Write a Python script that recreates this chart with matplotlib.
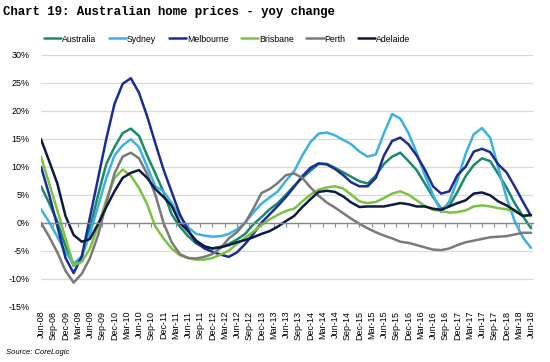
import matplotlib
matplotlib.use("Agg")
import matplotlib.pyplot as plt
import numpy as np

# months since Jun-08, every 2 months
months = list(range(0, 121, 2))

australia = [6.5, 3.5, 0.2, -4.2, -7.7, -6.2, -1.0, 5.0, 10.5, 13.5, 16.0, 16.8, 15.5, 12.0, 8.8, 5.5,
             1.5, -0.7, -2.4, -3.7, -4.4, -4.6, -4.3, -3.8, -3.0, -2.0, -0.3, 1.0, 2.4, 3.5, 5.0,
             6.6, 8.0, 9.3, 10.5, 10.5, 9.8, 9.0, 8.2, 7.4, 7.0, 8.4, 10.5, 11.8, 12.5, 11.0,
             9.4, 7.0, 4.6, 2.5, 3.0, 5.5, 8.3, 10.3, 11.5, 11.0, 8.7, 6.3, 3.5, 1.2, -1.0]
sydney = [2.4, 0.1, -2.5, -5.3, -7.3, -6.0, -2.0, 3.0, 8.0, 12.0, 13.8, 14.9, 13.5, 10.0, 6.5, 5.6,
          3.5, 1.1, -0.8, -2.0, -2.3, -2.5, -2.4, -2.0, -1.2, 0.0, 1.8, 3.4, 4.5, 5.6, 7.5,
          9.2, 12.0, 14.4, 15.9, 16.1, 15.6, 14.8, 14.0, 12.7, 11.8, 12.2, 16.0, 19.4, 18.6, 16.0,
          12.5, 8.5, 5.0, 1.9, 3.8, 7.6, 12.3, 15.8, 16.9, 15.2, 9.8, 4.5, 0.3, -2.6, -4.5]
melbourne = [10.0, 5.0, -0.6, -6.3, -9.0, -6.0, 1.0, 8.0, 15.0, 21.2, 24.8, 25.8, 23.2, 19.0, 14.2, 9.5,
             5.5, 1.5, -1.3, -3.5, -4.6, -5.2, -5.7, -6.1, -5.3, -3.8, -2.0, 0.0, 1.5, 3.0, 4.6,
             6.4, 8.3, 9.8, 10.6, 10.4, 9.6, 8.5, 7.2, 6.5, 6.5, 8.0, 12.0, 14.6, 15.2, 14.0,
             12.0, 9.5, 6.5, 5.2, 5.6, 8.5, 10.0, 12.7, 13.2, 12.6, 10.4, 9.0, 6.5, 3.8, 1.2]
brisbane = [11.8, 7.0, 2.2, -2.8, -7.6, -7.0, -4.6, -0.6, 4.1, 8.0, 9.5, 8.4, 6.2, 3.3, -0.7, -2.8,
            -4.6, -5.8, -6.3, -6.6, -6.6, -6.3, -5.7, -5.0, -3.8, -2.7, -1.6, -0.4, 0.6, 1.4, 2.1,
            2.5, 3.8, 5.0, 5.9, 6.3, 6.5, 6.1, 5.0, 3.8, 3.5, 3.7, 4.4, 5.2, 5.6, 5.0,
            4.0, 3.0, 2.3, 2.1, 1.8, 1.9, 2.2, 2.9, 3.1, 2.9, 2.6, 2.4, 2.0, 1.3, 1.2]
perth = [0.0, -2.5, -5.3, -8.6, -10.7, -9.1, -6.3, -2.2, 3.5, 8.8, 11.8, 12.5, 11.5, 8.7, 5.0, 0.0,
         -3.5, -5.6, -6.3, -6.4, -6.1, -5.6, -4.5, -2.8, -1.7, 0.0, 2.5, 5.3, 6.0, 7.1, 8.5,
         8.8, 8.0, 6.3, 4.8, 3.6, 2.7, 1.7, 0.7, -0.2, -1.0, -1.7, -2.3, -2.8, -3.4, -3.6,
         -4.0, -4.4, -4.8, -4.9, -4.6, -4.0, -3.5, -3.2, -2.9, -2.6, -2.5, -2.4, -2.1, -1.8, -1.8]
adelaide = [14.9, 11.0, 7.0, 1.2, -2.2, -3.4, -2.9, -0.2, 2.8, 5.6, 8.0, 8.9, 9.4, 8.0, 6.0, 4.6,
            3.0, 0.0, -1.5, -3.2, -4.2, -4.6, -4.4, -4.0, -3.5, -3.1, -2.6, -2.0, -1.5, -0.7, 0.3,
            1.2, 2.8, 4.2, 5.5, 5.7, 5.5, 4.7, 3.6, 2.8, 2.9, 2.9, 2.9, 3.2, 3.5, 3.3,
            2.9, 2.9, 2.5, 2.3, 2.9, 3.5, 4.0, 5.2, 5.4, 4.9, 3.8, 3.1, 2.2, 1.2, 1.4]

series_names = ["Australia", "Sydney", "Melbourne", "Brisbane", "Perth", "Adelaide"]
series_values = [australia, sydney, melbourne, brisbane, perth, adelaide]
colors = ["#1A8A6A", "#3DB1E3", "#1C2C96", "#7CC242", "#7A7A7A", "#0C1A45"]

mon = ["Jun", "Sep", "Dec", "Mar"]
tick_months = list(range(0, 121, 3))
tick_labels = []
for i, m in enumerate(tick_months):
    yr = 8 + (m + 6) // 12
    tick_labels.append(f"{mon[i % 4]}-{yr:02d}")

y_ticks = [-15, -10, -5, 0, 5, 10, 15, 20, 25, 30]

fig = plt.figure(figsize=(5.5, 3.62), dpi=100)
ax = fig.add_axes([41/550, 1 - 306.7/362, (533-41)/550, (306.7-54.7)/362])

for name, vals, c in zip(series_names, series_values, colors):
    ax.plot(months, vals, color=c, lw=1.8, label=name, solid_capstyle="round")

ax.set_xlim(0, 120.5)
ax.set_ylim(-15, 30)
ax.set_yticks(y_ticks)
ax.set_yticklabels([f"{v}%" for v in y_ticks], fontsize=6.5, family="Liberation Sans")
ax.tick_params(axis="y", length=0, pad=8)
ax.grid(axis="y", color="#D9D9D9", lw=0.9)
ax.set_axisbelow(True)
for s in ["left", "right", "top"]:
    ax.spines[s].set_visible(False)
ax.spines["bottom"].set_position(("data", 0))
ax.spines["bottom"].set_color("#888888")
ax.spines["bottom"].set_linewidth(1.0)
ax.set_xticks(tick_months)
ax.tick_params(axis="x", direction="out", length=3, color="#888888", labelbottom=False)

sec = ax.secondary_xaxis(0)
sec.set_xticks(tick_months)
sec.set_xticklabels(tick_labels, rotation=90, fontsize=6.5, family="Liberation Sans")
sec.tick_params(length=0, pad=3)
sec.spines["bottom"].set_visible(False)

leg = fig.legend(*ax.get_legend_handles_labels(), loc="center left", ncol=6,
                 bbox_to_anchor=(36/550, 1 - 39/362), frameon=False,
                 prop={"family": "Liberation Sans", "size": 6.3},
                 handlelength=2.0, handletextpad=0.1, columnspacing=1.4)
for h in leg.get_lines():
    h.set_linewidth(1.8)

fig.text(3/550, 1 - 12/362, "Chart 19: Australian home prices - yoy change",
         family="Liberation Mono", weight="bold", fontsize=8.9, va="center", ha="left")
fig.text(6/550, 1 - 353/362, "Source: CoreLogic", family="Liberation Sans",
         style="italic", fontsize=5.5, va="center", ha="left")

fig.savefig("out.png", dpi=100)
